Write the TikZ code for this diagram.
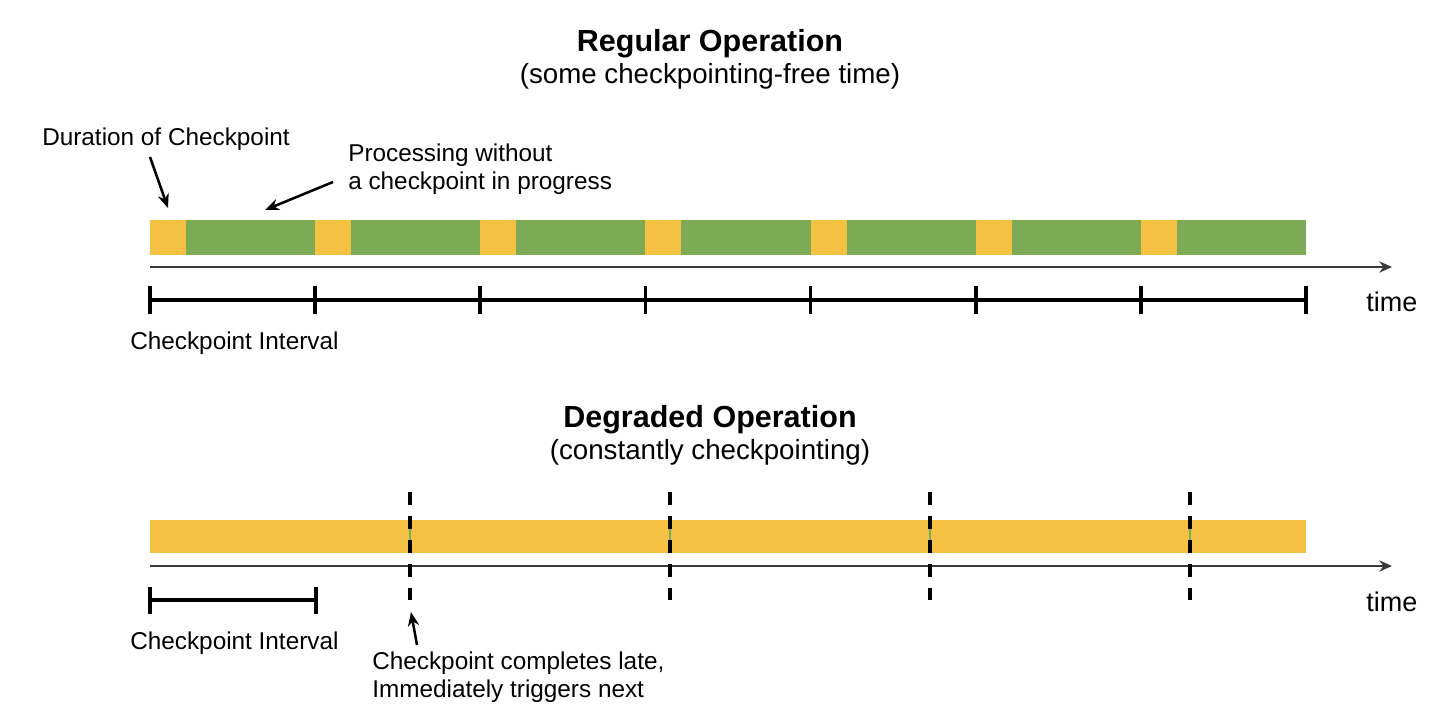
\documentclass[tikz,border=0pt]{standalone}
\usepackage{fontspec}
\setmainfont{Liberation Sans}
\usetikzlibrary{arrows.meta}
\definecolor{cpamarillo}{HTML}{F4C143}
\definecolor{cpverde}{HTML}{7DAA55}
\definecolor{ejegris}{HTML}{3A3A3A}

\begin{document}
\begin{tikzpicture}[
    x=0.025cm, y=-0.025cm,
    cpseg/.style={fill=cpamarillo, draw=none},
    procseg/.style={fill=cpverde, draw=none},
    eje/.style={line width=1.8pt, ejegris, -{Stealth[length=9pt, width=8pt]}},
    regla/.style={line width=2.6pt, black},
    marca/.style={line width=2.6pt, black, dash pattern=on 9.25pt off 7.8pt},
    flecha/.style={line width=1.8pt, black, -{Stealth[length=10pt, width=8pt]}},
    titulo/.style={font=\fontsize{21.7}{26}\selectfont\bfseries, anchor=base},
    subtitulo/.style={font=\fontsize{19.7}{24}\selectfont, anchor=base},
    etiqueta/.style={font=\fontsize{17.3}{19.9}\selectfont, inner sep=0pt, align=left},
    tiempo/.style={font=\fontsize{19.2}{23}\selectfont, inner sep=0pt, anchor=base west}
]

    % Marco de la figura
    \useasboundingbox (0,0) rectangle (1440,718);
    \fill[white] (0,0) rectangle (1440,718);

    % Parametros de la linea de tiempo
    \def\periodo{165.14}
    \def\durcp{36}

    % OPERACION REGULAR
    \node[titulo] (tituloreg) at (710,51) {Regular Operation};
    \node[subtitulo] (subreg) at (710,83) {(some checkpointing-free time)};

    % Segmentos: checkpoint (amarillo) y procesamiento libre (verde)
    \foreach \i in {0,...,6} {
        \fill[cpseg] ({150+\i*\periodo},220) rectangle ++(\durcp,35);
        \fill[procseg] ({150+\i*\periodo+\durcp},220) rectangle ++({\periodo-\durcp},35);
    }

    % Eje de tiempo
    \coordinate (ejeregini) at (150,267);
    \coordinate (ejeregfin) at (1392,267);
    \draw[eje] (ejeregini) -- (ejeregfin);

    % Intervalos de checkpoint
    \draw[regla] (150,300) -- (1306,300);
    \foreach \i in {0,...,7}
        \draw[regla] ({150+\i*\periodo},286) -- ++(0,28);
    \node[tiempo] (tiemporeg) at (1366,311) {time};
    \node[etiqueta, anchor=base west] (intreg) at (130,349) {Checkpoint Interval};

    % Anotaciones
    \node[etiqueta, anchor=base west] (duracion) at (42,145) {Duration of Checkpoint};
    \node[etiqueta, anchor=north west] (proceso) at (348,144) {Processing without\\a checkpoint in progress};
    \coordinate (durorig) at (150,157);
    \coordinate (durpunta) at (168,208);
    \coordinate (procorig) at (333,182);
    \coordinate (procpunta) at (265,210);
    \draw[flecha] (durorig) -- (durpunta);
    \draw[flecha] (procorig) -- (procpunta);

    % OPERACION DEGRADADA
    \node[titulo] (titulodeg) at (710,427) {Degraded Operation};
    \node[subtitulo] (subdeg) at (710,459) {(constantly checkpointing)};

    % Checkpoint continuo
    \fill[cpseg] (150,520) rectangle (1306,553);

    % Eje de tiempo
    \coordinate (ejedegini) at (150,566);
    \coordinate (ejedegfin) at (1392,566);
    \draw[eje] (ejedegini) -- (ejedegfin);

    % Fin tardio de cada checkpoint
    \foreach \x in {410,670,930,1190} {
        \draw[cpverde, line width=1.6pt] (\x,520) -- (\x,553);
        \draw[marca] (\x,492) -- (\x,600);
    }

    % Intervalo de checkpoint
    \draw[regla] (150,600) -- (316,600);
    \draw[regla] (150,587) -- (150,614);
    \draw[regla] (316,587) -- (316,614);
    \node[tiempo] (tiempodeg) at (1366,611) {time};
    \node[etiqueta, anchor=base west] (intdeg) at (130,649) {Checkpoint Interval};

    % Anotacion
    \node[etiqueta, anchor=north west] (tardio) at (372,652) {Checkpoint completes late,\\Immediately triggers next};
    \coordinate (tardorig) at (417,645);
    \coordinate (tardpunta) at (411,612);
    \draw[flecha] (tardorig) -- (tardpunta);

\end{tikzpicture}
\end{document}
